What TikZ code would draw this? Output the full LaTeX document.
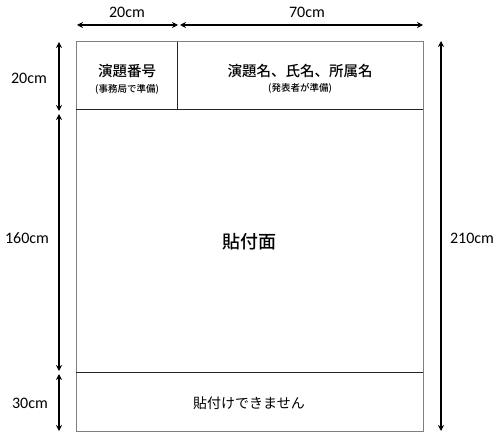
\documentclass[tikz,border=0pt]{standalone}
\usepackage{fontspec}
\setmainfont{Carlito}
\newfontfamily\jp{Noto Sans CJK JP}
\newfontfamily\jpm{Noto Sans CJK JP Medium}
\usetikzlibrary{arrows.meta}
\begin{document}
\begin{tikzpicture}[x=1pt,y=-1pt,
  dim/.style={draw=black,line width=1.6pt,{Stealth[length=6pt,width=6pt]}-{Stealth[length=6pt,width=6pt]}},
  lbl/.style={font=\fontsize{16}{18}\selectfont,inner sep=0pt},
  outer/.style={draw=black!50,line width=1pt},
  inner/.style={draw=black!85,line width=1pt},
  head/.style={font=\jpm\fontsize{14.5}{17}\selectfont,inner sep=0pt},
  sub/.style={font=\jpm\fontsize{9.5}{11}\selectfont,inner sep=0pt}
]
\useasboundingbox (0,0) rectangle (500,438);
% frame
\coordinate (tl) at (76,42);
\coordinate (br) at (423,431);
\draw[outer] (tl) rectangle (br);
\coordinate (v1) at (177,42);
\coordinate (v2) at (177,110);
\coordinate (h1l) at (76,110);
\coordinate (h1r) at (423,110);
\coordinate (h2l) at (76,372);
\coordinate (h2r) at (423,372);
\draw[inner] (v1) -- (v2);
\draw[inner] (h1l) -- (h1r);
\draw[inner] (h2l) -- (h2r);
% texts inside
\node[head] (t1) at (127,71) {演題番号};
\node[sub] (s1) at (127,89) {(事務局で準備)};
\node[head] (t2) at (300,71) {演題名、氏名、所属名};
\node[sub] (s2) at (300,88) {(発表者が準備)};
\node[font=\jpm\fontsize{18}{20}\selectfont,inner sep=0pt] (main) at (249,242) {貼付面};
\node[font=\jp\fontsize{14}{16}\selectfont,inner sep=0pt] (bot) at (249,403) {貼付けできません};
% top dimension arrows
\coordinate (a1) at (77,25);
\coordinate (a2) at (178,25);
\coordinate (a3) at (180,25);
\coordinate (a4) at (423,25);
\draw[dim] (a1) -- (a2);
\draw[dim] (a3) -- (a4);
\node[lbl] (l20a) at (127,12) {20cm};
\node[lbl] (l70) at (307,12) {70cm};
% left dimension arrows
\coordinate (b1) at (59,42);
\coordinate (b2) at (59,111);
\coordinate (b3) at (59,114);
\coordinate (b4) at (59,371);
\coordinate (b5) at (59,374);
\coordinate (b6) at (59,431);
\draw[dim] (b1) -- (b2);
\draw[dim] (b3) -- (b4);
\draw[dim] (b5) -- (b6);
\node[lbl] (l20b) at (29,78) {20cm};
\node[lbl] (l160) at (27,238) {160cm};
\node[lbl] (l30) at (30,403) {30cm};
% right dimension arrow
\coordinate (c1) at (441,41);
\coordinate (c2) at (441,431);
\draw[dim] (c1) -- (c2);
\node[lbl] (l210) at (472,238) {210cm};
\end{tikzpicture}
\end{document}
